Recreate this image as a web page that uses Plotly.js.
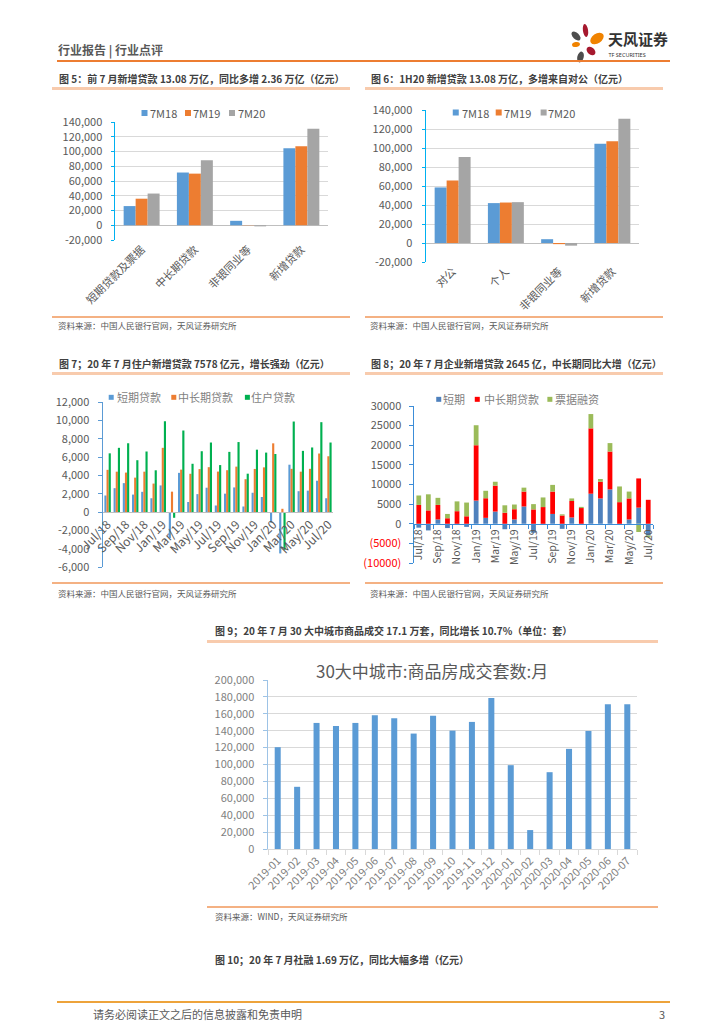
<!DOCTYPE html>
<html><head><meta charset="utf-8">
<script src="https://cdn.plot.ly/plotly-3.0.1.min.js"></script>
<style>
html,body{margin:0;padding:0;background:#fff;}
#page{position:relative;width:724px;height:1024px;overflow:hidden;background:#fff;font-family:"Noto Sans CJK SC","Noto Sans",sans-serif;}
.t{position:absolute;white-space:nowrap;line-height:1;}
.ttl{font-size:10px;font-weight:bold;color:#404040;}
.src{font-size:8.5px;color:#595959;}
.ln{position:absolute;}
.chart{position:absolute;}
</style></head><body><div id="page">

<svg style="position:absolute;left:560px;top:18px" width="112" height="48" viewBox="560 18 112 48">
 <ellipse cx="576" cy="36" rx="5.5" ry="3.2" transform="rotate(45 576 36)" fill="#4D4D4D"/>
 <ellipse cx="585.5" cy="30.5" rx="2.6" ry="6.5" transform="rotate(-8 585.5 30.5)" fill="#A6192E"/>
 <ellipse cx="597" cy="38.5" rx="7.5" ry="4.8" transform="rotate(-35 597 38.5)" fill="#F08300"/>
 <ellipse cx="576" cy="44.5" rx="4" ry="2.5" transform="rotate(-10 576 44.5)" fill="#F08300"/>
 <ellipse cx="591" cy="51" rx="5" ry="3.5" transform="rotate(40 591 51)" fill="#A6192E"/>
 <ellipse cx="580.5" cy="57" rx="3.2" ry="5.5" transform="rotate(15 580.5 57)" fill="#4D4D4D"/>
 <text x="608" y="45" font-size="15" font-weight="bold" fill="#333" font-family="Noto Sans CJK SC">天风证券</text>
 <text x="608.5" y="57" font-size="5.5" fill="#333" font-family="Noto Sans">TF SECURITIES</text>
</svg>

<div class="t" style="left:58px;top:44px;font-size:12px;font-weight:bold;color:#595959;">行业报告 | 行业点评</div>
<div class="ln" style="left:57px;top:60px;width:613px;height:2px;background:#ED7D31;"></div>

<div class="t ttl" style="left:59px;top:74px;">图 5：前 7 月新增贷款 13.08 万亿，同比多增 2.36 万亿（亿元）</div>
<div class="t ttl" style="left:371px;top:74px;">图 6：1H20 新增贷款 13.08 万亿，多增来自对公（亿元）</div>
<div class="ln" style="left:52px;top:87px;width:298px;height:2.5px;background:#F8CBAD;"></div>
<div class="ln" style="left:365px;top:87px;width:298px;height:2.5px;background:#F8CBAD;"></div>
<div class="ln" style="left:52px;top:316px;width:298px;height:1.5px;background:#F4B183;"></div>
<div class="ln" style="left:365px;top:316px;width:298px;height:1.5px;background:#F4B183;"></div>
<div class="t src" style="left:58px;top:321px;">资料来源：中国人民银行官网，天风证券研究所</div>
<div class="t src" style="left:370px;top:321px;">资料来源：中国人民银行官网，天风证券研究所</div>

<div class="t ttl" style="left:59px;top:359px;">图 7；20 年 7 月住户新增贷款 7578 亿元，增长强劲（亿元）</div>
<div class="t ttl" style="left:371px;top:359px;">图 8；20 年 7 月企业新增贷款 2645 亿，中长期同比大增（亿元）</div>
<div class="ln" style="left:52px;top:372px;width:298px;height:2.5px;background:#F8CBAD;"></div>
<div class="ln" style="left:365px;top:372px;width:298px;height:2.5px;background:#F8CBAD;"></div>
<div class="ln" style="left:52px;top:582px;width:298px;height:1.5px;background:#F4B183;"></div>
<div class="ln" style="left:365px;top:582px;width:298px;height:1.5px;background:#F4B183;"></div>
<div class="t src" style="left:58px;top:589px;">资料来源：中国人民银行官网，天风证券研究所</div>
<div class="t src" style="left:370px;top:589px;">资料来源：中国人民银行官网，天风证券研究所</div>

<div class="t ttl" style="left:215px;top:626px;">图 9；20 年 7 月 30 大中城市商品成交 17.1 万套，同比增长 10.7%（单位：套）</div>
<div class="ln" style="left:207px;top:640px;width:451px;height:2.5px;background:#F8CBAD;"></div>
<div class="ln" style="left:207px;top:906px;width:451px;height:1.5px;background:#F4B183;"></div>
<div class="t src" style="left:215px;top:912px;">资料来源：WIND，天风证券研究所</div>

<div class="t ttl" style="left:215px;top:955px;">图 10；20 年 7 月社融 1.69 万亿，同比大幅多增（亿元）</div>
<div class="ln" style="left:57px;top:1001px;width:613px;height:2px;background:#EDA33B;"></div>
<div class="t" style="left:93px;top:1009px;font-size:11px;color:#595959;">请务必阅读正文之后的信息披露和免责申明</div>
<div class="t" style="left:659px;top:1009px;font-size:11px;color:#595959;">3</div>

<div id="c5" class="chart"></div>
<div id="c6" class="chart"></div>
<div id="c7" class="chart"></div>
<div id="c8" class="chart"></div>
<div id="c9" class="chart"></div>
</div>
<script>
// ---------------- DATA ----------------
const seriesNames56 = ['7M18', '7M19', '7M20'];
const cats5 = ['短期贷款及票据', '中长期贷款', '非银同业等', '新增贷款'];
const c5_7M18 = [26000, 71500, 6000, 104500];
const c5_7M19 = [36000, 70000, -300, 107200];
const c5_7M20 = [43000, 88000, -1500, 130800];
const yTicks5 = [-20000, 0, 20000, 40000, 60000, 80000, 100000, 120000, 140000];

const cats6 = ['对公', '个人', '非银同业等', '新增贷款'];
const c6_7M18 = [58500, 42000, 4000, 104500];
const c6_7M19 = [65800, 42600, -1200, 107200];
const c6_7M20 = [90500, 43000, -2800, 130800];
const yTicks6 = [-20000, 0, 20000, 40000, 60000, 80000, 100000, 120000, 140000];

const months = ['Jul/18','Aug/18','Sep/18','Oct/18','Nov/18','Dec/18','Jan/19','Feb/19','Mar/19','Apr/19','May/19','Jun/19','Jul/19','Aug/19','Sep/19','Oct/19','Nov/19','Dec/19','Jan/20','Feb/20','Mar/20','Apr/20','May/20','Jun/20','Jul/20'];
const names7 = ['短期贷款', '中长期贷款', '住户贷款'];
const hhShort = [1800,2600,3150,1900,2200,1500,2900,-2850,4270,1090,1950,2650,710,2000,2680,600,2100,1640,-1170,-4520,5160,2270,2330,3410,1500];
const hhLong  = [4600,4400,4300,3750,4400,3100,7000,2220,4620,4170,4680,4890,4410,4560,4950,3580,4700,4870,7490,350,4710,4400,4710,6380,6080];
const hhTotal = [6400,7000,7500,5650,6600,4550,9900,-630,8890,5260,6630,7580,5120,6560,7630,4180,6800,6480,6330,-4130,9870,6670,7040,9800,7580];
const yTicks7 = [-6000,-4000,-2000,0,2000,4000,6000,8000,10000,12000];

const names8 = ['短期', '中长期贷款', '票据融资'];
const corpShort = [-1000,-1700,1100,-1100,-200,-800,5900,1500,3100,-1400,1100,4400,-2300,-300,2500,-1300,1600,-100,7650,6450,8750,-100,1100,4100,-3000];
const corpLong  = [4800,3400,3700,1400,3200,1900,14100,5000,6600,2800,2600,3800,3650,4250,5700,2100,4200,4000,16650,4250,9650,5500,5350,7450,6100];
const corpBill  = [2400,4100,1800,1100,2500,3500,5100,1900,1000,1900,1200,1000,1350,2450,1700,300,650,300,3650,700,2150,4000,1750,-2100,-450];
const yTicks8 = [-10000,-5000,0,5000,10000,15000,20000,25000,30000];

const title9 = '30大中城市:商品房成交套数:月';
const cats9 = ['2019-01','2019-02','2019-03','2019-04','2019-05','2019-06','2019-07','2019-08','2019-09','2019-10','2019-11','2019-12','2020-01','2020-02','2020-03','2020-04','2020-05','2020-06','2020-07'];
const sales9 = [120500,73600,149200,145600,149200,158200,154700,136600,157800,140100,150400,178700,99200,22400,90900,118500,139700,171200,171200];
const yTicks9 = [0,20000,40000,60000,80000,100000,120000,140000,160000,180000,200000];

// ---------------- HELPERS ----------------
const FONT = '"Noto Sans CJK SC", "Noto Sans", sans-serif';
const fmtK = v => v.toLocaleString('en-US');
function geom(div, plot) {
  return {
    div: div,
    margin: {l: plot.x0 - div.l, r: div.l + div.w - plot.x1, t: plot.y0 - div.t, b: div.t + div.h - plot.y1, pad: 0},
    px: X => (X - plot.x0) / (plot.x1 - plot.x0),
    py: Y => (plot.y1 - Y) / (plot.y1 - plot.y0)
  };
}
function placeDiv(id, g) {
  const el = document.getElementById(id);
  el.style.left = g.div.l + 'px'; el.style.top = g.div.t + 'px';
  el.style.width = g.div.w + 'px'; el.style.height = g.div.h + 'px';
  return el;
}
function manualLegend(g, items, y, size, font) {
  const shapes = [], ann = [];
  items.forEach(it => {
    shapes.push({type: 'rect', xref: 'paper', yref: 'paper', x0: g.px(it.mx), x1: g.px(it.mx + size),
      y0: g.py(y + size / 2), y1: g.py(y - size / 2), fillcolor: it.color, line: {width: 0}});
    ann.push({xref: 'paper', yref: 'paper', x: g.px(it.tx), y: g.py(y), xanchor: 'left', yanchor: 'middle',
      text: it.name, showarrow: false, font: font, borderpad: 0, borderwidth: 0});
  });
  return {shapes, ann};
}
function baseLayout(g) {
  return {width: g.div.w, height: g.div.h, margin: g.margin, paper_bgcolor: 'rgba(0,0,0,0)', plot_bgcolor: 'rgba(0,0,0,0)',
    font: {family: FONT, size: 11, color: '#595959'}, showlegend: false, hovermode: false};
}
const cfg = {staticPlot: true, displayModeBar: false};
const cBlue = '#5B9BD5', cOrange = '#ED7D31', cGray = '#A5A5A5';

// ---------------- CHART 5 ----------------
(function () {
  const g = geom({l: 38, t: 95, w: 314, h: 218}, {x0: 115, x1: 328, y0: 122, y1: 240});
  placeDiv('c5', g);
  const cols = [cBlue, cOrange, cGray];
  const vals = [c5_7M18, c5_7M19, c5_7M20];
  const traces = vals.map((v, i) => ({type: 'bar', x: cats5, y: v, name: seriesNames56[i], marker: {color: cols[i]}}));
  const lg = manualLegend(g, [
    {name: seriesNames56[0], color: cols[0], mx: 141.5, tx: 150},
    {name: seriesNames56[1], color: cols[1], mx: 185, tx: 193},
    {name: seriesNames56[2], color: cols[2], mx: 229, tx: 237.5}], 113, 6, {size: 11, color: '#595959', family: FONT});
  const L = Object.assign(baseLayout(g), {
    barmode: 'group', bargap: 0.325, bargroupgap: 0,
    xaxis: {type: 'category', tickangle: -45, tickfont: {size: 11, color: '#595959'}, showline: false, showgrid: false, ticks: '', zeroline: false, automargin: false},
    yaxis: {range: [-20000, 140000], tickvals: yTicks5, ticktext: yTicks5.map(fmtK), showgrid: true, gridcolor: '#D9D9D9', zeroline: true,
      zerolinecolor: '#BFBFBF', zerolinewidth: 1, showline: true, linecolor: '#00B0F0', linewidth: 1.5, ticks: 'outside', ticklen: 3,
      tickcolor: '#00B0F0', ticklabelstandoff: 6, automargin: false, tickfont: {size: 11, color: '#595959'}},
    shapes: lg.shapes, annotations: lg.ann
  });
  Plotly.newPlot('c5', traces, L, cfg);
})();

// ---------------- CHART 6 ----------------
(function () {
  const g = geom({l: 362, t: 95, w: 300, h: 218}, {x0: 425.7, x1: 639, y0: 110, y1: 261.7});
  placeDiv('c6', g);
  const cols = [cBlue, cOrange, cGray];
  const vals = [c6_7M18, c6_7M19, c6_7M20];
  const traces = vals.map((v, i) => ({type: 'bar', x: cats6, y: v, name: seriesNames56[i], marker: {color: cols[i]}}));
  const lg = manualLegend(g, [
    {name: seriesNames56[0], color: cols[0], mx: 452.5, tx: 461.5},
    {name: seriesNames56[1], color: cols[1], mx: 495.5, tx: 504},
    {name: seriesNames56[2], color: cols[2], mx: 540.5, tx: 548}], 112.5, 6, {size: 11, color: '#595959', family: FONT});
  const L = Object.assign(baseLayout(g), {
    barmode: 'group', bargap: 0.325, bargroupgap: 0,
    xaxis: {type: 'category', tickangle: -45, tickfont: {size: 11, color: '#595959'}, showline: false, showgrid: false, ticks: '', zeroline: false, automargin: false},
    yaxis: {range: [-20000, 140000], tickvals: yTicks6, ticktext: yTicks6.map(fmtK), showgrid: true, gridcolor: '#D9D9D9', zeroline: true,
      zerolinecolor: '#BFBFBF', zerolinewidth: 1, showline: true, linecolor: '#00B0F0', linewidth: 1.5, ticks: 'outside', ticklen: 3,
      tickcolor: '#00B0F0', ticklabelstandoff: 7, automargin: false, tickfont: {size: 11, color: '#595959'}},
    shapes: lg.shapes, annotations: lg.ann
  });
  Plotly.newPlot('c6', traces, L, cfg);
})();

// ---------------- CHART 7 ----------------
(function () {
  const g = geom({l: 38, t: 378, w: 314, h: 203}, {x0: 103.3, x1: 333, y0: 401.7, y1: 567.3});
  placeDiv('c7', g);
  const cols = [cBlue, cOrange, '#00B050'];
  const vals = [hhShort, hhLong, hhTotal];
  const traces = vals.map((v, i) => ({type: 'bar', x: months, y: v, name: names7[i], marker: {color: cols[i]}}));
  const lg = manualLegend(g, [
    {name: names7[0], color: cols[0], mx: 109, tx: 117},
    {name: names7[1], color: cols[1], mx: 171.5, tx: 178},
    {name: names7[2], color: cols[2], mx: 245, tx: 251.5}], 397, 5, {size: 11, color: '#7F7F7F', family: FONT});
  const L = Object.assign(baseLayout(g), {
    barmode: 'group', bargap: 0.3, bargroupgap: 0,
    xaxis: {type: 'category', anchor: 'free', position: 6000 / 18000, tickvals: months.filter((m, i) => i % 2 === 0),
      tickangle: -45, tickfont: {size: 12, color: '#595959'}, showline: true, linecolor: '#BFBFBF', linewidth: 1, showgrid: false, ticks: '', zeroline: false, automargin: false},
    yaxis: {range: [-6000, 12000], tickvals: yTicks7, ticktext: yTicks7.map(fmtK), showgrid: false, zeroline: false,
      showline: true, linecolor: '#5B9BD5', linewidth: 1.5, ticks: 'outside', ticklen: 4, tickcolor: '#5B9BD5',
      ticklabelstandoff: 6, automargin: false, tickfont: {size: 11, color: '#595959'}},
    shapes: lg.shapes, annotations: lg.ann
  });
  Plotly.newPlot('c7', traces, L, cfg);
})();

// ---------------- CHART 8 ----------------
(function () {
  const g = geom({l: 362, t: 378, w: 300, h: 203}, {x0: 414.3, x1: 653, y0: 405.7, y1: 563.3});
  placeDiv('c8', g);
  const cols = ['#4F81BD', '#FF0000', '#9BBB59'];
  const vals = [corpShort, corpLong, corpBill];
  const traces = vals.map((v, i) => ({type: 'bar', x: months, y: v, name: names8[i], marker: {color: cols[i]}}));
  const lg = manualLegend(g, [
    {name: names8[0], color: cols[0], mx: 436.5, tx: 443.5},
    {name: names8[1], color: cols[1], mx: 475, tx: 484},
    {name: names8[2], color: cols[2], mx: 547.5, tx: 555}], 399, 5, {size: 11, color: '#7F7F7F', family: FONT});
  const axBlue = '#3C8DD8';
  const L = Object.assign(baseLayout(g), {
    barmode: 'relative', bargap: 0.5,
    xaxis: {type: 'category', anchor: 'free', position: 10000 / 40000, tickvals: months.filter((m, i) => i % 2 === 0),
      tickangle: -90, tickfont: {size: 10.5, color: '#595959'}, showline: true, linecolor: axBlue, linewidth: 1.5, showgrid: false,
      ticks: 'outside', ticklen: 4, tickcolor: axBlue, tickson: 'boundaries', zeroline: false, automargin: false},
    yaxis: {range: [-10000, 30000], tickvals: yTicks8,
      ticktext: yTicks8.map(v => v < 0 ? '<span style="color:#FF0000">(' + (-v) + ')</span>' : String(v)),
      showgrid: false, zeroline: false, showline: true, linecolor: axBlue, linewidth: 1.5, ticks: 'outside', ticklen: 4, tickcolor: axBlue,
      ticklabelstandoff: 5, automargin: false, tickfont: {size: 11, color: '#595959'}},
    shapes: lg.shapes, annotations: lg.ann
  });
  Plotly.newPlot('c8', traces, L, cfg);
})();

// ---------------- CHART 9 ----------------
(function () {
  const g = geom({l: 207, t: 648, w: 451, h: 256}, {x0: 268.3, x1: 636.7, y0: 680, y1: 849.3});
  placeDiv('c9', g);
  const traces = [{type: 'bar', x: cats9, y: sales9, name: title9, marker: {color: '#5B9BD5'}}];
  const L = Object.assign(baseLayout(g), {
    bargap: 0.69,
    xaxis: {type: 'category', tickangle: -45, tickfont: {size: 11, color: '#7F7F7F'}, showline: true, linecolor: '#D9D9D9', linewidth: 1,
      showgrid: false, ticks: 'outside', ticklen: 5, tickcolor: '#D9D9D9', tickson: 'boundaries', zeroline: false, automargin: false},
    yaxis: {range: [0, 200000], tickvals: yTicks9, ticktext: yTicks9.map(fmtK), showgrid: true, gridcolor: '#D9D9D9', zeroline: false,
      showline: true, linecolor: '#9DC3E6', linewidth: 1.5, ticks: 'outside', ticklen: 4, tickcolor: '#9DC3E6',
      ticklabelstandoff: 6, automargin: false, tickfont: {size: 11, color: '#7F7F7F'}},
    annotations: [{xref: 'paper', yref: 'paper', x: g.px(432), y: g.py(670), xanchor: 'center', yanchor: 'middle', text: title9,
      showarrow: false, font: {size: 17, color: '#595959', family: FONT}}]
  });
  Plotly.newPlot('c9', traces, L, cfg);
})();
</script>
</body></html>
